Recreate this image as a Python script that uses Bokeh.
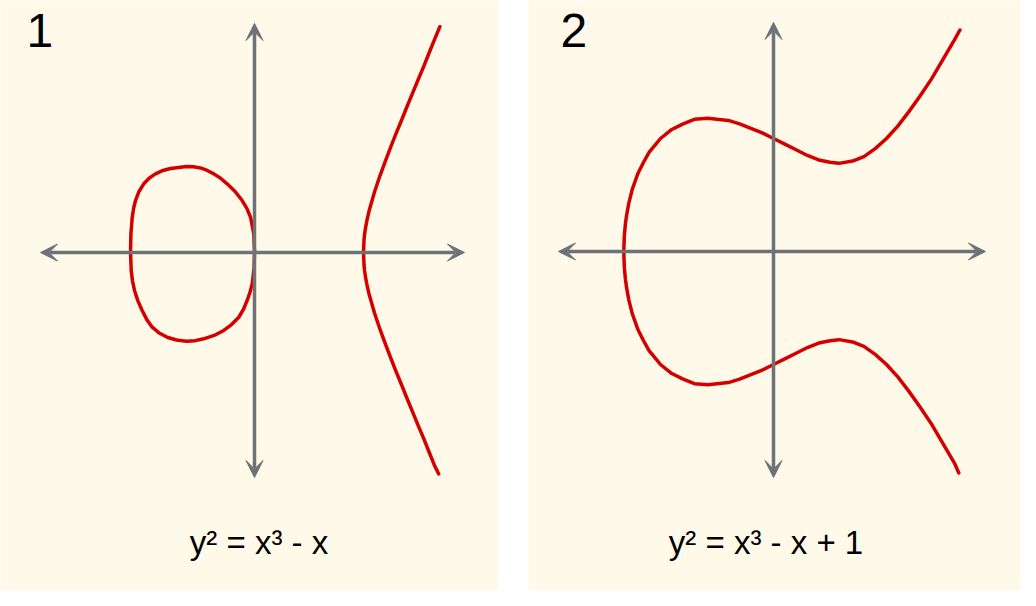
from bokeh.plotting import figure
from bokeh.layouts import row
from bokeh.models import Range1d, Arrow, VeeHead, Label
from bokeh.embed import file_html
from bokeh.resources import INLINE

# ---------------- data (panel units) ----------------
# Panel 1: y^2 = x^3 - x  (closed loop)
loop_x = [0.0, -0.006, -0.035, -0.068, -0.109, -0.172, -0.242, -0.300, -0.360, -0.418,
          -0.478, -0.540, -0.602, -0.743, -0.810, -0.876, -0.930, -0.980, -1.022, -1.053,
          -1.070, -1.082, -1.094, -1.097, -1.091, -1.080, -1.062, -1.032, -0.994, -0.953,
          -0.905, -0.843, -0.773, -0.690, -0.602, -0.525, -0.449, -0.358, -0.272, -0.203,
          -0.139, -0.098, -0.065, -0.040, -0.020, -0.004, 0.0]
loop_y = [0.0, 0.165, 0.312, 0.390, 0.460, 0.540, 0.608, 0.657, 0.696, 0.726,
          0.748, 0.758, 0.761, 0.743, 0.726, 0.696, 0.660, 0.608, 0.540, 0.460,
          0.390, 0.312, 0.160, 0.0, -0.159, -0.250, -0.336, -0.428, -0.513, -0.594,
          -0.661, -0.713, -0.750, -0.774, -0.785, -0.780, -0.764, -0.734, -0.690, -0.638,
          -0.573, -0.503, -0.425, -0.352, -0.277, -0.140, 0.0]
# Panel 1: right branch
branch_x = [1.640, 1.591, 1.543, 1.496, 1.447, 1.399, 1.350, 1.303, 1.254, 1.206,
            1.159, 1.110, 1.062, 1.013, 0.994, 0.984, 0.974, 0.969, 0.965,
            0.969, 0.974, 0.984, 0.994, 1.013, 1.062, 1.110, 1.159, 1.206, 1.254,
            1.303, 1.350, 1.399, 1.447, 1.496, 1.543, 1.591, 1.630]
branch_y = [1.998, 1.880, 1.761, 1.643, 1.527, 1.410, 1.292, 1.175, 1.056, 0.935,
            0.811, 0.679, 0.536, 0.365, 0.279, 0.227, 0.159, 0.111, 0.0,
            -0.111, -0.159, -0.227, -0.279, -0.365, -0.536, -0.679, -0.811, -0.935, -1.056,
            -1.175, -1.292, -1.410, -1.527, -1.643, -1.761, -1.880, -1.960]

# Panel 2: y^2 = x^3 - x + 1
curve2_x = [1.65, 1.6, 1.5, 1.4, 1.3, 1.2, 1.1, 1.0, 0.9, 0.8, 0.7, 0.58, 0.5, 0.4, 0.3,
            0.2, 0.1, 0.0, -0.1, -0.2, -0.3, -0.4, -0.5, -0.58, -0.7, -0.8, -0.9, -1.0,
            -1.05, -1.1, -1.15, -1.2, -1.25, -1.28, -1.3, -1.31, -1.32, -1.325,
            -1.32, -1.31, -1.3, -1.28, -1.25, -1.2, -1.15, -1.1, -1.05, -1.0, -0.9, -0.8,
            -0.7, -0.58, -0.5, -0.4, -0.3, -0.2, -0.1, 0.0, 0.1, 0.2, 0.3, 0.4, 0.5, 0.58,
            0.7, 0.8, 0.9, 1.0, 1.1, 1.2, 1.3, 1.4, 1.5, 1.6, 1.64]
curve2_y = [1.96, 1.87, 1.70, 1.53, 1.38, 1.24, 1.11, 1.00, 0.91, 0.84, 0.80, 0.78, 0.79,
            0.81, 0.85, 0.90, 0.95, 1.00, 1.05, 1.09, 1.13, 1.16, 1.17, 1.18, 1.17, 1.13,
            1.08, 1.00, 0.94, 0.88, 0.79, 0.69, 0.55, 0.43, 0.32, 0.25, 0.14, 0.00,
            -0.14, -0.25, -0.32, -0.43, -0.55, -0.69, -0.79, -0.88, -0.94, -1.00, -1.08,
            -1.13, -1.17, -1.18, -1.17, -1.16, -1.13, -1.09, -1.05, -1.00, -0.95, -0.90,
            -0.85, -0.81, -0.79, -0.78, -0.80, -0.84, -0.91, -1.00, -1.11, -1.24, -1.38,
            -1.53, -1.70, -1.87, -1.96]

panel_labels = ["1", "2"]
equations = ["y\u00b2 = x\u00b3 - x", "y\u00b2 = x\u00b3 - x + 1"]

# ---------------- styles ----------------
BG = "#fff9e9"
RED = "#d40000"
GRAY = "#6c7276"
FONT = "Liberation Sans"
PX = 113.0  # pixels per unit
H = 590


def make_panel(width, ox, oy, hx, vy, label, label_x, eq, eq_x):
    p = figure(width=width, height=H, output_backend="svg", toolbar_location=None,
               x_axis_type=None, y_axis_type=None, min_border=0,
               x_range=Range1d(-ox / PX, (width - ox) / PX),
               y_range=Range1d(-(H - oy) / PX, oy / PX),
               background_fill_color=BG, border_fill_color=BG,
               outline_line_color=None)
    p.grid.visible = False
    for (xs, ys, xe, ye) in [(hx[0], 0, hx[1], 0), (0, vy[0], 0, vy[1])]:
        p.add_layout(Arrow(x_start=xs, y_start=ys, x_end=xe, y_end=ye,
                           line_color=GRAY, line_width=3.5,
                           start=VeeHead(size=17, fill_color=GRAY, line_color=GRAY, line_width=1),
                           end=VeeHead(size=17, fill_color=GRAY, line_color=GRAY, line_width=1)))
    p.add_layout(Label(x=label_x, y=H - 30, x_units="screen", y_units="screen",
                       text=label, text_font=FONT, text_font_size="48px",
                       text_color="black", text_baseline="alphabetic"))
    p.add_layout(Label(x=eq_x, y=H - 542, x_units="screen", y_units="screen",
                       text=eq, text_font=FONT, text_font_size="33px",
                       text_color="black", text_align="center",
                       text_baseline="alphabetic"))
    return p


p1 = make_panel(498, 254, 252, (-1.894, 1.858), (-1.991, 2.027),
                panel_labels[0], 26, equations[0], 258.5)
p1.line(loop_x, loop_y, line_color=RED, line_width=3.5, line_join="round")
p1.line(branch_x, branch_y, line_color=RED, line_width=3.5, line_join="round",
        line_cap="round")

p2 = make_panel(492, 245, 251, (-1.903, 1.876), (-2.0, 2.027),
                panel_labels[1], 32, equations[1], 237.5)
p2.line(curve2_x, curve2_y, line_color=RED, line_width=3.5, line_join="round",
        line_cap="round")

layout = row(p1, p2, spacing=30)

open("out.html", "w").write(file_html(layout, INLINE))
